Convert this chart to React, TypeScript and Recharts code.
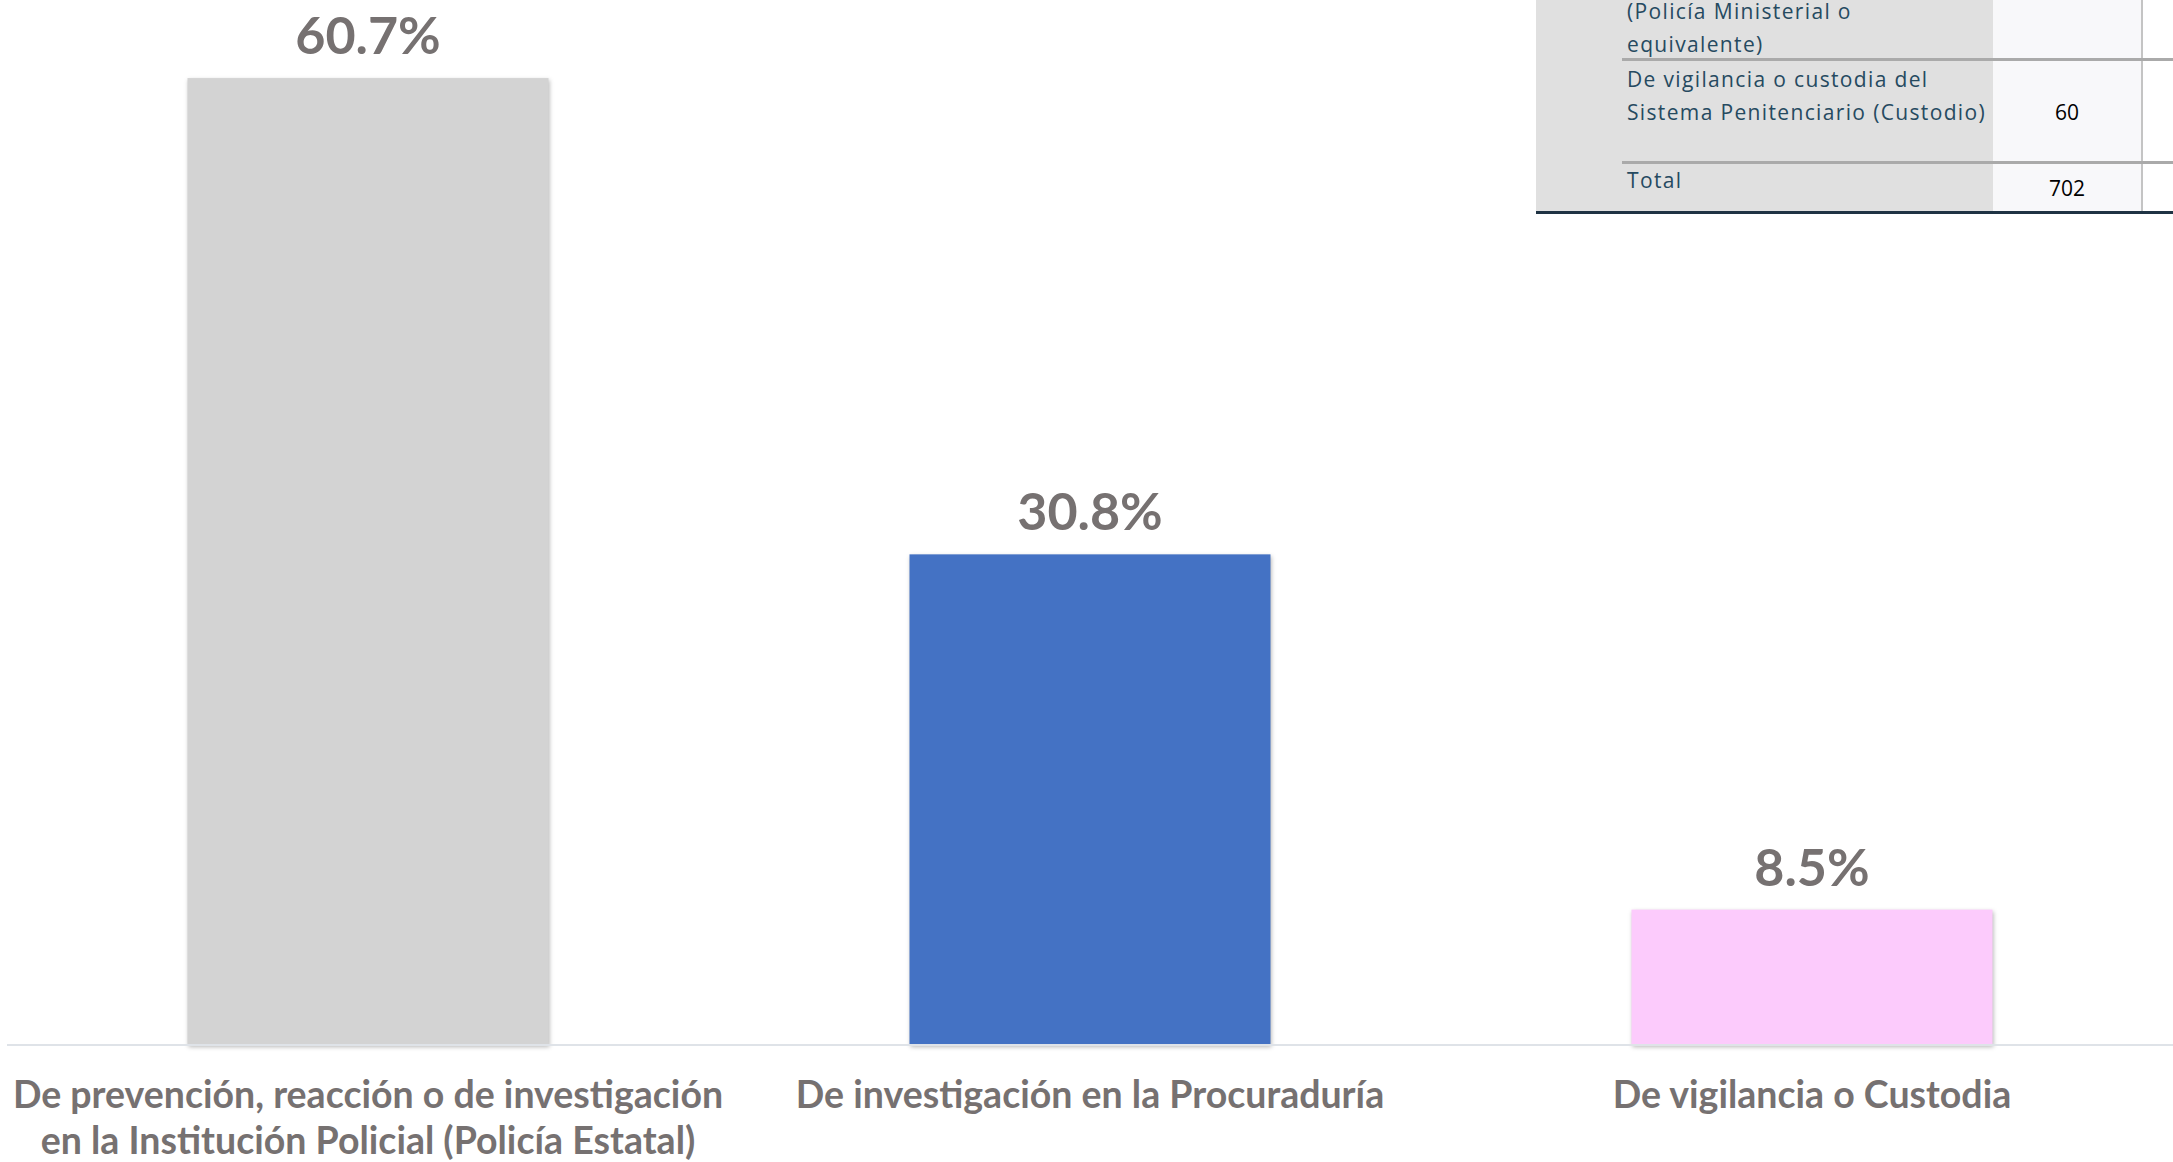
import { Bar, BarChart, Cell, LabelList, XAxis, YAxis } from "recharts";

const categories = [
  "De prevención, reacción o de investigación\nen la Institución Policial (Policía Estatal)",
  "De investigación en la Procuraduría",
  "De vigilancia o Custodia",
];
const shares = [60.7, 30.8, 8.5];
const barColors = ["#d3d3d3", "#4472c4", "#fccbfc"];

// fragmento de la tabla que aparece recortado arriba a la derecha
const tableLines = [
  "(Policía Ministerial o",
  "equivalente)",
  "De vigilancia o custodia del",
  "Sistema Penitenciario (Custodio)",
  "Total",
];
const tableValues = ["60", "702"];

const TEXT_GRAY = "#767171";
const FONT = '"Source Sans Pro", Lato, sans-serif';

const chartData = categories.map((name, i) => ({ name, value: shares[i] }));

function CategoryTick(props: any) {
  const { x, y, payload } = props;
  const lines = String(payload.value).split("\n");
  return (
    <text
      x={x}
      y={y}
      textAnchor="middle"
      fill={TEXT_GRAY}
      fontFamily={FONT}
      fontWeight={700}
      fontSize={37.5}
    >
      {lines.map((line, i) => (
        <tspan key={i} x={x} dy={i === 0 ? 55 : 46}>
          {line}
        </tspan>
      ))}
    </text>
  );
}

function ShadowBar(props: any) {
  const { x, y, width, height, fill } = props;
  return (
    <rect
      x={x}
      y={y}
      width={width}
      height={height}
      fill={fill}
      style={{ filter: "drop-shadow(1px 2px 2px rgba(0,0,0,0.28))" }}
    />
  );
}

function TableFragment() {
  const label = {
    position: "absolute" as const,
    left: 1627,
    fontFamily: '"Open Sans", sans-serif',
    fontSize: 21,
    letterSpacing: 1.35,
    color: "#264a60",
    lineHeight: "24px",
    whiteSpace: "nowrap" as const,
  };
  const num = {
    position: "absolute" as const,
    width: 148,
    left: 1993,
    textAlign: "center" as const,
    fontFamily: '"Open Sans", sans-serif',
    fontSize: 21,
    color: "#000",
    lineHeight: "24px",
  };
  const lineTops = [-1, 32, 67, 100, 168];
  const valueTops = [100, 176];
  return (
    <>
      <div style={{ position: "absolute", left: 1536, top: 0, width: 457, height: 212, background: "#e0e0e0" }} />
      <div style={{ position: "absolute", left: 1993, top: 0, width: 148, height: 212, background: "#f8f8fa" }} />
      <div style={{ position: "absolute", left: 2141, top: 0, width: 2, height: 212, background: "#c4c4c4" }} />
      <div style={{ position: "absolute", left: 1622, top: 58, width: 551, height: 3, background: "#aaaaaa" }} />
      <div style={{ position: "absolute", left: 1622, top: 161, width: 551, height: 3, background: "#aaaaaa" }} />
      <div style={{ position: "absolute", left: 1536, top: 211, width: 637, height: 3, background: "#1f3344" }} />
      {tableLines.map((t, i) => (
        <div key={t} style={{ ...label, top: lineTops[i] }}>
          {t}
        </div>
      ))}
      {tableValues.map((v, i) => (
        <div key={v} style={{ ...num, top: valueTops[i] }}>
          {v}
        </div>
      ))}
    </>
  );
}

export default function App() {
  return (
    <div style={{ position: "fixed", left: 0, top: 0, width: 2173, height: 1162, background: "#fff", overflow: "hidden" }}>
      <BarChart
        width={2173}
        height={1162}
        data={chartData}
        margin={{ top: 0, right: 0, left: 7, bottom: 0 }}
        barCategoryGap="25%"
      >
        <XAxis
          dataKey="name"
          axisLine={{ stroke: "#dfe3e8", strokeWidth: 2 }}
          tickLine={false}
          interval={0}
          height={117}
          tick={<CategoryTick />}
        />
        <YAxis hide domain={[0, 65.6]} />
        <Bar dataKey="value" isAnimationActive={false} shape={<ShadowBar />}>
          {chartData.map((_, i) => (
            <Cell key={i} fill={barColors[i]} />
          ))}
          <LabelList
            dataKey="value"
            position="top"
            offset={24}
            formatter={(v: any) => `${v}%`}
            fill={TEXT_GRAY}
            fontFamily={FONT}
            fontWeight={700}
            fontSize={52}
          />
        </Bar>
      </BarChart>
      <TableFragment />
    </div>
  );
}
